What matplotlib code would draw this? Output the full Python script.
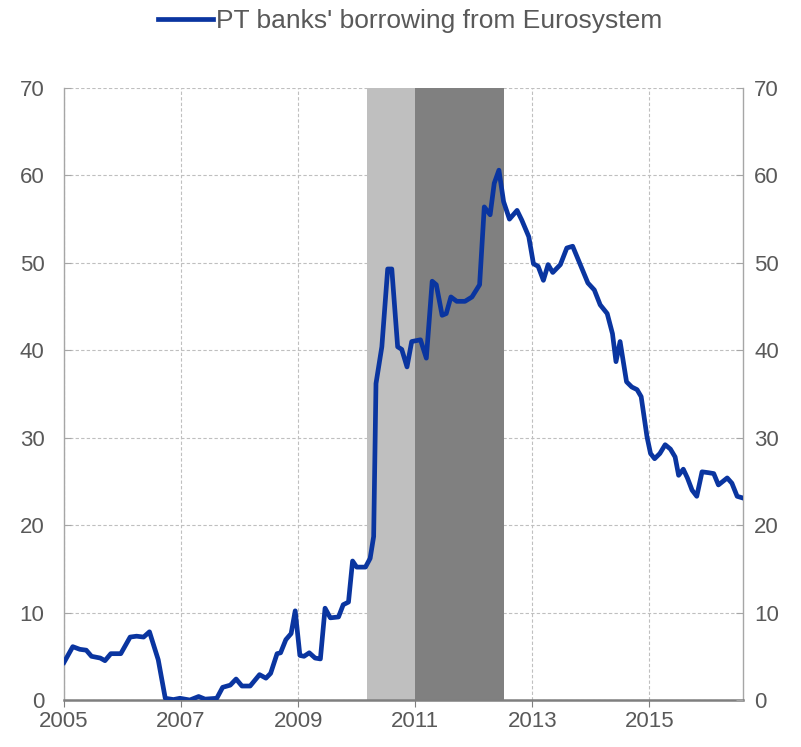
import matplotlib.pyplot as plt

# decimal year of each vertex and the borrowing level (EUR bn)
dates = [2005.00, 2005.15, 2005.27, 2005.38, 2005.47, 2005.62, 2005.70, 2005.80,
         2005.97, 2006.13, 2006.24, 2006.36, 2006.46, 2006.61, 2006.73, 2006.87,
         2006.98, 2007.15, 2007.30, 2007.41, 2007.61, 2007.71, 2007.84, 2007.94,
         2008.04, 2008.18, 2008.34, 2008.45, 2008.53, 2008.64, 2008.70, 2008.79,
         2008.88, 2008.95, 2009.03, 2009.10, 2009.19, 2009.29, 2009.38, 2009.46,
         2009.55, 2009.69, 2009.77, 2009.86, 2009.93, 2010.00, 2010.15, 2010.23,
         2010.29, 2010.33, 2010.43, 2010.53, 2010.60, 2010.70, 2010.77, 2010.86,
         2010.94, 2011.09, 2011.19, 2011.29, 2011.36, 2011.46, 2011.53, 2011.61,
         2011.71, 2011.85, 2011.97, 2012.10, 2012.18, 2012.28, 2012.35, 2012.43,
         2012.51, 2012.61, 2012.74, 2012.82, 2012.94, 2013.02, 2013.10, 2013.19,
         2013.27, 2013.35, 2013.48, 2013.59, 2013.69, 2013.82, 2013.95, 2014.06,
         2014.16, 2014.28, 2014.37, 2014.43, 2014.50, 2014.61, 2014.70, 2014.79,
         2014.86, 2014.96, 2015.02, 2015.09, 2015.18, 2015.27, 2015.36, 2015.44,
         2015.50, 2015.58, 2015.65, 2015.73, 2015.81, 2015.90, 2016.01, 2016.10,
         2016.18, 2016.33, 2016.41, 2016.50, 2016.60]
borrowing = [4.3, 6.1, 5.8, 5.7, 5.0, 4.8, 4.5, 5.3,
             5.3, 7.2, 7.3, 7.2, 7.8, 4.6, 0.2, 0.05,
             0.2, 0.0, 0.4, 0.1, 0.2, 1.45, 1.7, 2.4,
             1.6, 1.6, 2.9, 2.5, 3.05, 5.3, 5.4, 6.9,
             7.6, 10.2, 5.1, 5.0, 5.4, 4.8, 4.7, 10.5,
             9.4, 9.5, 10.9, 11.2, 15.9, 15.2, 15.2, 16.2,
             18.7, 36.2, 40.4, 49.3, 49.3, 40.4, 40.1, 38.1,
             41.0, 41.2, 39.1, 47.9, 47.5, 44.0, 44.2, 46.1,
             45.6, 45.6, 46.1, 47.5, 56.4, 55.5, 59.1, 60.6,
             57.0, 55.0, 56.0, 54.9, 53.0, 49.9, 49.6, 48.0,
             49.8, 48.9, 49.8, 51.7, 51.9, 49.8, 47.7, 46.9,
             45.2, 44.2, 41.9, 38.7, 41.0, 36.4, 35.8, 35.5,
             34.7, 30.1, 28.2, 27.6, 28.2, 29.2, 28.7, 27.8,
             25.7, 26.4, 25.4, 24.0, 23.3, 26.1, 26.0, 25.9,
             24.6, 25.4, 24.8, 23.3, 23.1]

# shaded periods
light_span = (2010.18, 2011.0)
dark_span = (2011.0, 2012.52)

x_ticks = [2005, 2007, 2009, 2011, 2013, 2015]
y_ticks = [0, 10, 20, 30, 40, 50, 60, 70]

plt.rcParams["font.family"] = ["Liberation Sans", "DejaVu Sans"]
text_color = "#595959"

fig = plt.figure(figsize=(8.01, 7.47), dpi=100)
ax = fig.add_axes([0.0799, 0.0629, 0.8477, 0.8193])

ax.axvspan(*light_span, color="#bfbfbf", lw=0, zorder=1)
ax.axvspan(*dark_span, color="#808080", lw=0, zorder=1)

line, = ax.plot(dates, borrowing, color="#0a35a0", lw=3.4, solid_joinstyle="round",
                label="PT banks' borrowing from Eurosystem", zorder=3)

ax.set_xlim(2005, 2016.6)
ax.set_ylim(0, 70)
ax.set_xticks(x_ticks)
ax.set_yticks(y_ticks)
ax.grid(True, color="#bfbfbf", linestyle=(0, (3, 2)), lw=0.8, zorder=0)
ax.set_axisbelow(True)

ax.spines["top"].set_visible(False)
for side in ["left", "right"]:
    ax.spines[side].set_color("#a6a6a6")
    ax.spines[side].set_linewidth(1.0)
ax.spines["bottom"].set_color("#7f7f7f")
ax.spines["bottom"].set_linewidth(1.8)

ax.tick_params(axis="y", direction="in", length=5, color="#a6a6a6",
               labelsize=16, labelcolor=text_color, pad=14)
ax.tick_params(axis="x", direction="out", length=5, color="#7f7f7f",
               labelsize=16, labelcolor=text_color, pad=3)

# right-hand labels mirror the left axis
ax2 = ax.twinx()
ax2.set_ylim(ax.get_ylim())
ax2.set_yticks(y_ticks)
for side in ["top", "left", "bottom", "right"]:
    ax2.spines[side].set_visible(False)
ax2.tick_params(axis="y", direction="in", length=5, color="#a6a6a6",
                labelsize=16, labelcolor=text_color, pad=8)

fig.legend(handles=[line], loc="center", bbox_to_anchor=(0.512, 0.972), frameon=False,
           fontsize=19, handlelength=2.1, handletextpad=0.1, labelcolor=text_color)

fig.savefig("out.png", dpi=100)
